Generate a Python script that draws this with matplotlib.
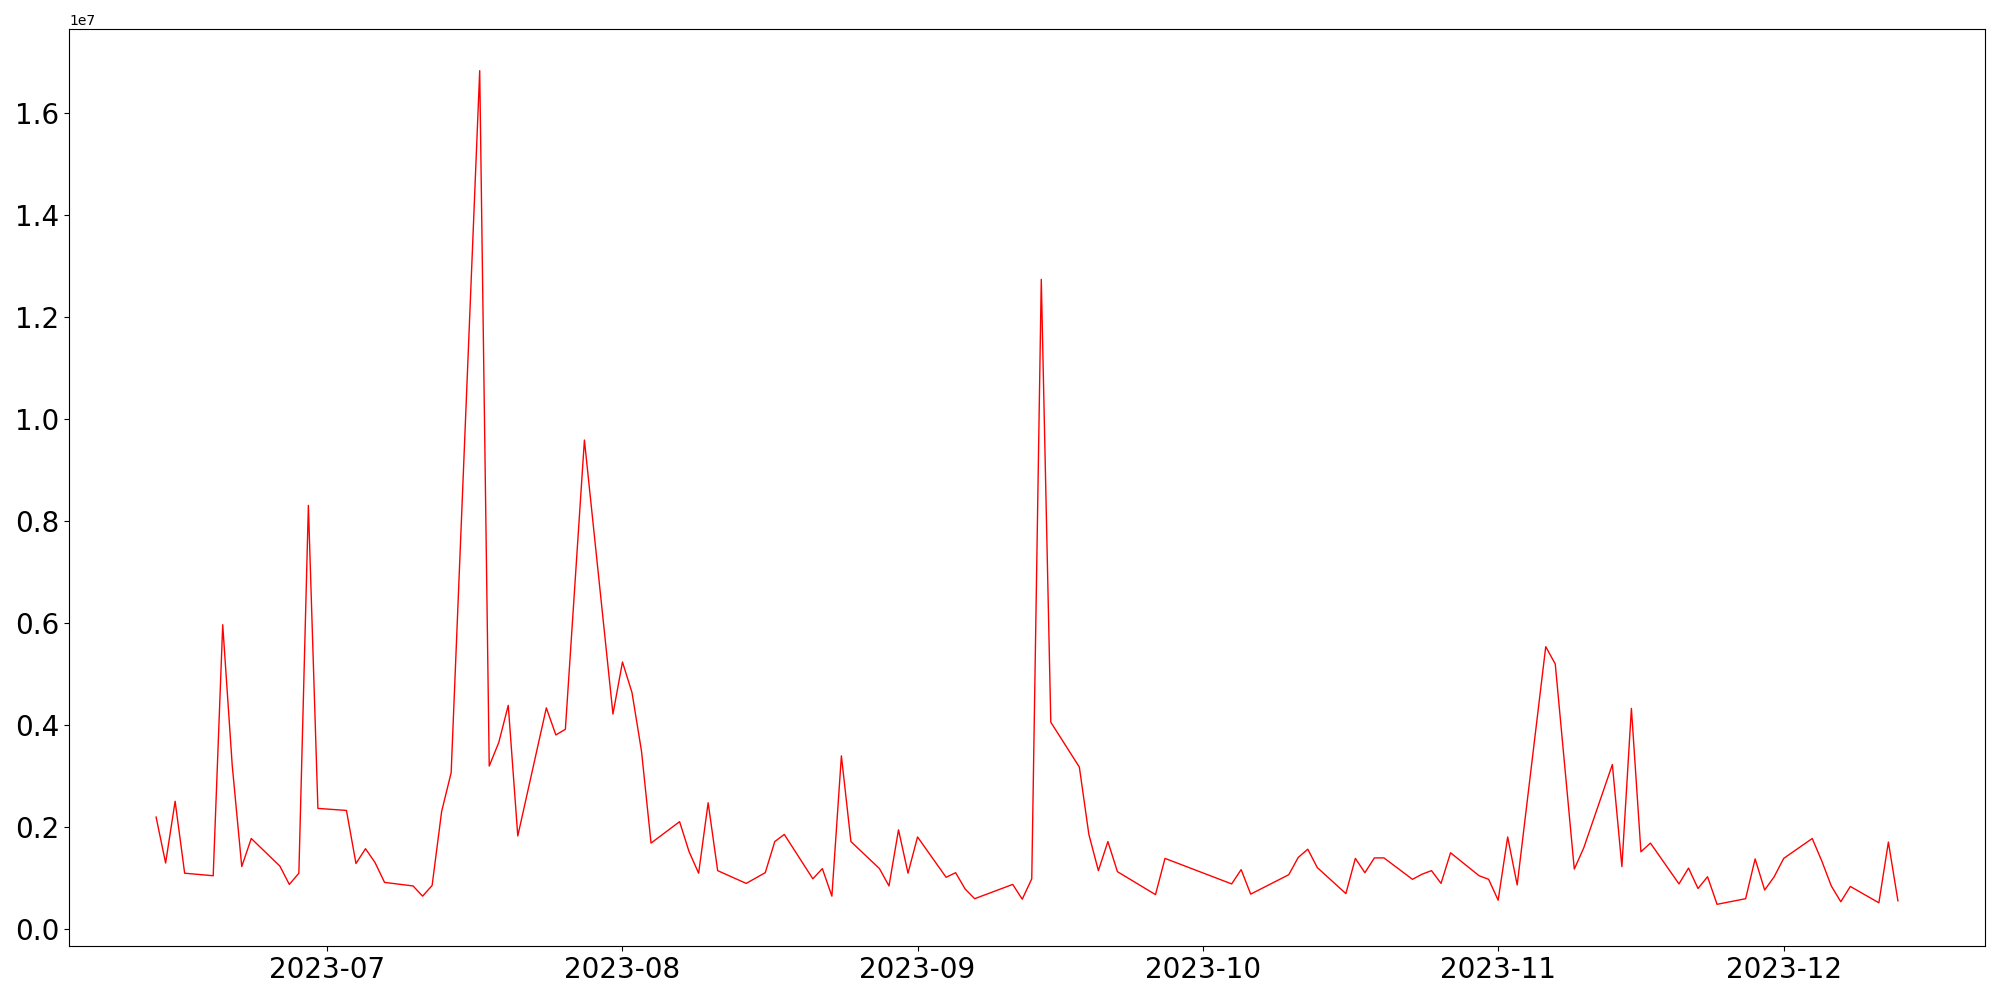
import pandas as pd
import matplotlib
matplotlib.use("Agg")
import matplotlib.pyplot as plt

dates = [
  "2023-06-13", "2023-06-14", "2023-06-15", "2023-06-16", "2023-06-19", "2023-06-20", "2023-06-21",
  "2023-06-22", "2023-06-23", "2023-06-26", "2023-06-27", "2023-06-28", "2023-06-29", "2023-06-30",
  "2023-07-03", "2023-07-04", "2023-07-05", "2023-07-06", "2023-07-07", "2023-07-10", "2023-07-11",
  "2023-07-12", "2023-07-13", "2023-07-14", "2023-07-17", "2023-07-18", "2023-07-19", "2023-07-20",
  "2023-07-21", "2023-07-24", "2023-07-25", "2023-07-26", "2023-07-28", "2023-07-31",
  "2023-08-01", "2023-08-02", "2023-08-03", "2023-08-04", "2023-08-07", "2023-08-08", "2023-08-09",
  "2023-08-10", "2023-08-11", "2023-08-14", "2023-08-16", "2023-08-17", "2023-08-18", "2023-08-21",
  "2023-08-22", "2023-08-23", "2023-08-24", "2023-08-25", "2023-08-28", "2023-08-29", "2023-08-30",
  "2023-08-31",
  "2023-09-01", "2023-09-04", "2023-09-05", "2023-09-06", "2023-09-07", "2023-09-11", "2023-09-12",
  "2023-09-13", "2023-09-14", "2023-09-15", "2023-09-18", "2023-09-19", "2023-09-20", "2023-09-21",
  "2023-09-22", "2023-09-26", "2023-09-27",
  "2023-10-04", "2023-10-05", "2023-10-06", "2023-10-10", "2023-10-11", "2023-10-12", "2023-10-13",
  "2023-10-16", "2023-10-17", "2023-10-18", "2023-10-19", "2023-10-20", "2023-10-23", "2023-10-24",
  "2023-10-25", "2023-10-26", "2023-10-27", "2023-10-30", "2023-10-31",
  "2023-11-01", "2023-11-02", "2023-11-03", "2023-11-06", "2023-11-07", "2023-11-08", "2023-11-09",
  "2023-11-10", "2023-11-13", "2023-11-14", "2023-11-15", "2023-11-16", "2023-11-17", "2023-11-20",
  "2023-11-21", "2023-11-22", "2023-11-23", "2023-11-24", "2023-11-27", "2023-11-28", "2023-11-29",
  "2023-11-30",
  "2023-12-01", "2023-12-04", "2023-12-05", "2023-12-06", "2023-12-07", "2023-12-08", "2023-12-11",
  "2023-12-12", "2023-12-13",
]

# values in millions
volumen = [
  2.19, 1.29, 2.50, 1.09, 1.04, 5.96, 3.20,
  1.22, 1.77, 1.23, 0.87, 1.09, 8.30, 2.36,
  2.32, 1.28, 1.57, 1.30, 0.91, 0.84, 0.64,
  0.85, 2.30, 3.06, 16.82, 3.19, 3.65, 4.38,
  1.82, 4.33, 3.80, 3.91, 9.58, 4.21,
  5.23, 4.63, 3.48, 1.68, 2.10, 1.51, 1.09,
  2.47, 1.14, 0.89, 1.10, 1.71, 1.85, 0.98,
  1.18, 0.64, 3.39, 1.71, 1.18, 0.84, 1.94,
  1.09,
  1.80, 1.01, 1.10, 0.78, 0.59, 0.87, 0.58,
  0.98, 12.73, 4.05, 3.17, 1.85, 1.14, 1.71,
  1.12, 0.67, 1.38,
  0.88, 1.16, 0.68, 1.06, 1.40, 1.56, 1.20,
  0.69, 1.38, 1.10, 1.39, 1.39, 0.97, 1.07,
  1.14, 0.89, 1.49, 1.04, 0.97,
  0.56, 1.80, 0.86, 5.53, 5.19, 3.18, 1.17,
  1.59, 3.22, 1.22, 4.32, 1.51, 1.68, 0.88,
  1.19, 0.79, 1.02, 0.48, 0.59, 1.37, 0.76,
  1.02,
  1.38, 1.77, 1.33, 0.84, 0.53, 0.83, 0.51,
  1.70, 0.55,
]

fechas = pd.to_datetime(dates)
valores = [v * 1e6 for v in volumen]

fig, ax = plt.subplots(figsize=(20, 10), dpi=100)
ax.plot(fechas, valores, color="red", linewidth=1)
plt.xticks(fontsize=20)
plt.yticks(fontsize=20)
plt.subplots_adjust(left=0.0345, right=0.9925, top=0.971, bottom=0.054)
plt.savefig("out.png")
